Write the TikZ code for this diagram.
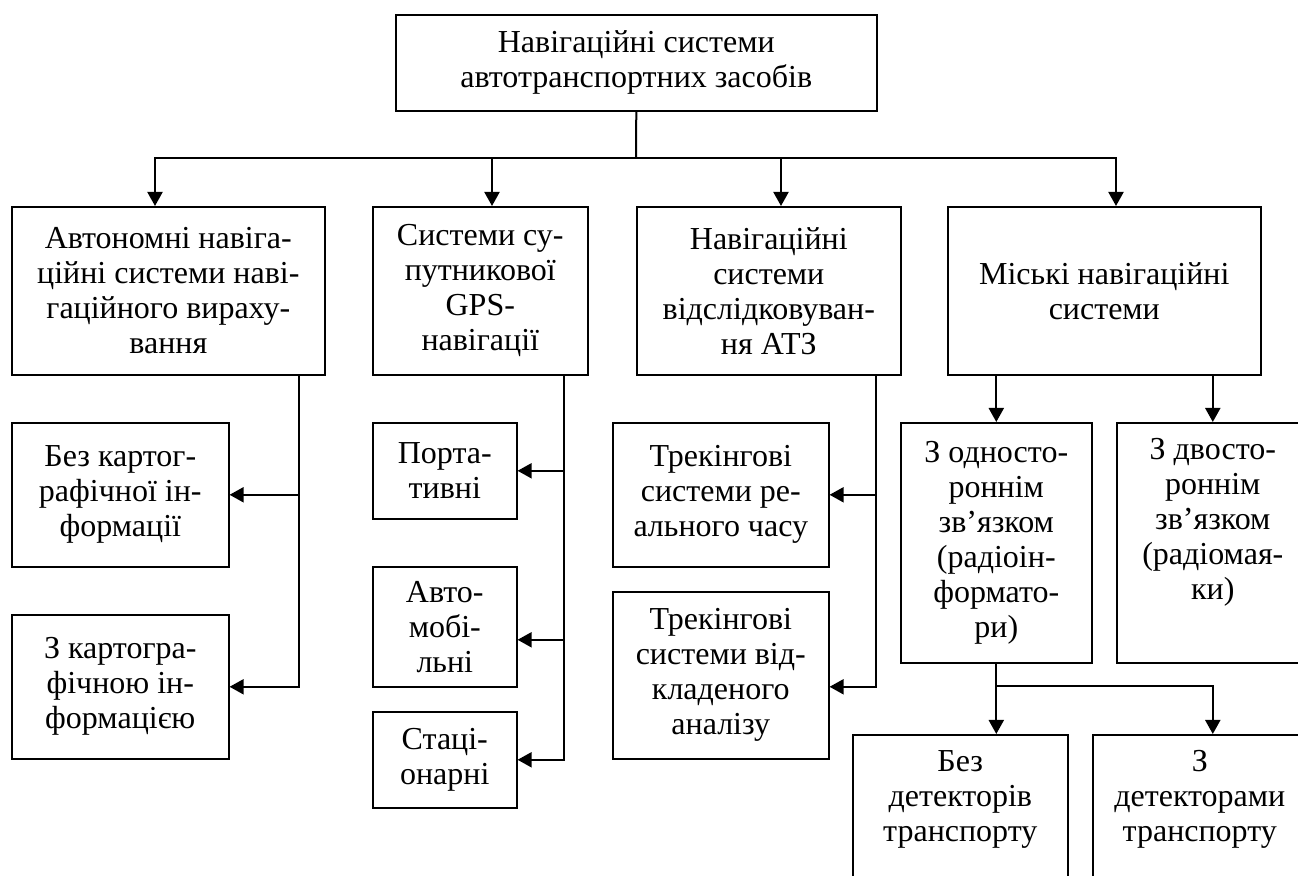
\documentclass[tikz,border=0pt]{standalone}
\usepackage{fontspec}
\setmainfont{Liberation Serif}
\usetikzlibrary{arrows.meta,positioning}
\newcommand{\hpx}{0.5pt}
\newcommand{\boxfont}{\fontsize{16}{17.5}\selectfont}
\tikzset{
    blk/.style={draw, line width=0.8pt, align=center, anchor=north west, inner sep=2pt, font=\boxfont},
    sz/.style 2 args={minimum width=#1*\hpx, minimum height=#2*\hpx},
    txt/.style={align=center, inner sep=2pt, font=\boxfont},
    link/.style={line width=1pt},
    arr/.style={link, -{Triangle[length=7pt, width=7.5pt]}}
}
\begin{document}
\begin{tikzpicture}[x=\hpx, y=-\hpx]
            \useasboundingbox (0,0) rectangle (1298,876);

            % root
            \node[blk, sz={481}{96}] (top) at (395,14) {Навігаційні системи\\автотранспортних засобів};

            % first level
            \node[blk, sz={313}{168}] (a) at (11,206) {Автономні навіга-\\ційні системи наві-\\гаційного вираху-\\вання};
            \node[blk, sz={215}{168}] (b) at (372,206) {Системи су-\\путникової\\GPS-\\навігації};
            \node[blk, sz={264}{168}] (c) at (636,206) {Навігаційні\\системи\\відслідковуван-\\ня АТЗ};
            \node[blk, sz={313}{168}] (d) at (947,206) {Міські навігаційні\\системи};

            % second level
            \node[blk, sz={217}{144}] (a1) at (11,422) {Без картог-\\рафічної ін-\\формації};
            \node[blk, sz={217}{144}] (a2) at (11,614) {З картогра-\\фічною ін-\\формацією};
            \node[blk, sz={144}{96}] (b1) at (372,422) {Порта-\\тивні};
            \node[blk, sz={144}{120}] (b2) at (372,566) {Авто-\\мобі-\\льні};
            \node[blk, sz={144}{96}] (b3) at (372,711) {Стаці-\\онарні};
            \node[blk, sz={216}{144}] (c1) at (612,422) {Трекінгові\\системи ре-\\ального часу};
            \node[blk, sz={216}{167}] (c2) at (612,591) {Трекінгові\\системи від-\\кладеного\\аналізу};
            \node[blk, sz={191}{240}] (d1) at (900,422) {З односто-\\роннім\\зв’язком\\(радіоін-\\формато-\\ри)};
            \node[blk, sz={192}{240}] (d2) at (1116,422) {};
            \node[txt, below=6pt of d2.north] (d2t) {З двосто-\\роннім\\зв’язком\\(радіомая-\\ки)};

            % third level
            \node[blk, sz={215}{200}] (e1) at (852,734) {};
            \node[txt, below=6pt of e1.north] (e1t) {Без\\детекторів\\транспорту};
            \node[blk, sz={214}{200}] (e2) at (1092,734) {};
            \node[txt, below=6pt of e2.north] (e2t) {З\\детекторами\\транспорту};

            % bus and trunk positions
            \coordinate (bus) at (636,158);
            \coordinate (xa) at (155,0);
            \coordinate (xb) at (492,0);
            \coordinate (xc) at (781,0);
            \coordinate (xd) at (1116,0);
            \coordinate (ta) at (299,0);
            \coordinate (tb) at (564,0);
            \coordinate (tc) at (876,0);
            \coordinate (ebus) at (996,686);
            \coordinate (b2in) at ([yshift=-6.5pt]b2.east);
            \coordinate (c2in) at ([yshift=-5.75pt]c2.east);

            \draw[link] (top.south) -- (bus);
            \foreach \n in {a,b,c,d}
                \draw[arr] (bus) -| (\n.north -| x\n);

            \draw[arr] (a.south -| ta) |- (a2.east);
            \draw[arr] (a1.east -| ta) -- (a1.east);

            \draw[arr] (b.south -| tb) |- (b3.east);
            \draw[arr] (b1.east -| tb) -- (b1.east);
            \draw[arr] (b2in -| tb) -- (b2in);

            \draw[arr] (c.south -| tc) |- (c2in);
            \draw[arr] (c1.east -| tc) -- (c1.east);

            \draw[arr] (d.south -| d1.north) -- (d1.north);
            \draw[arr] (d.south -| d2.north) -- (d2.north);

            \draw[arr] (d1.south) -- (e1.north -| d1.south);
            \draw[arr] (ebus) -| (e2.north -| d2.north);
        \end{tikzpicture}
\end{document}
